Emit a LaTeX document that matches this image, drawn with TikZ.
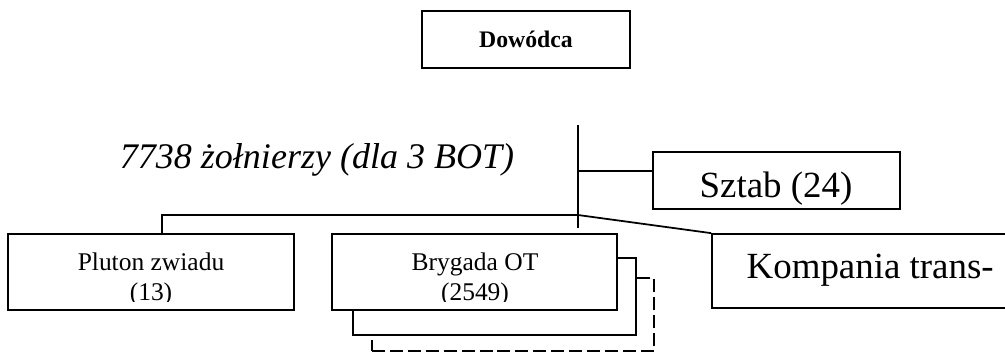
\documentclass[tikz,border=0pt]{standalone}
\usepackage{fontspec}
\setmainfont{Liberation Serif}
\usetikzlibrary{positioning}

\begin{document}
\begin{tikzpicture}[x=0.02cm, y=-0.02cm, line width=1pt,
    unit/.style={draw,rectangle,fill=white,inner sep=0pt},
    big/.style={font=\fontsize{21}{25}\selectfont},
    small/.style={font=\fontsize{14.5}{17}\selectfont}]
  \path[use as bounding box, clip] (0,0) rectangle (1005,353);

  \node[unit, line width=1.6pt, minimum width=4.16cm, minimum height=1.14cm, font=\bfseries\fontsize{13.5}{16}\selectfont] (dowodca) at (526,39.5) {Dowódca};

  \node[anchor=base, font=\itshape\fontsize{20.5}{24}\selectfont] (stan) at (317,168) {7738 żołnierzy (dla 3 BOT)};

  \node[unit, minimum width=4.94cm, minimum height=1.14cm] (sztab) at (776.5,180.5) {};
  \node[big, anchor=base] (sztabT) at (776,197) {Sztab (24)};

  \node[unit, minimum width=6cm, minimum height=1.48cm] (komp) at (862,271) {};
  \node[big, anchor=base west] (kompT) at (740,278) {Kompania trans-};

  % brygady OT (jedna za druga)
  \node[unit, dash pattern=on 7.4pt off 2.8pt, minimum width=5.64cm, minimum height=1.46cm] (bryg3) at (513,314.5) {};
  \node[unit, minimum width=5.66cm, minimum height=1.54cm] (bryg2) at (494.5,296.5) {};
  \node[unit, minimum width=5.70cm, minimum height=1.52cm] (bryg) at (474.5,272) {};
  \node[unit, minimum width=5.72cm, minimum height=1.52cm] (pluton) at (151,272) {};

  \begin{scope}
    \clip (0,234) rectangle (1005,301);
    \node[small, anchor=base] (plutonT) at (151,270) {Pluton zwiadu};
    \node[small, anchor=base] (plutonN) at (151,300) {(13)};
    \node[small, anchor=base] (brygT) at (475,270) {Brygada OT};
    \node[small, anchor=base] (brygN) at (475,300) {(2549)};
  \end{scope}

  \coordinate (trunk) at (578,125);
  \coordinate (trunkend) at (578,228);
  \coordinate (hub) at (578,215);
  \coordinate (szj) at (578,171);
  \coordinate (plj) at (162,215);

  \draw (trunk) -- (trunkend);
  \draw (szj) -- (szj -| sztab.west);
  \draw (hub) -- (plj) -- (plj |- pluton.north);
  \draw (hub) -- (komp.north west);
\end{tikzpicture}
\end{document}
